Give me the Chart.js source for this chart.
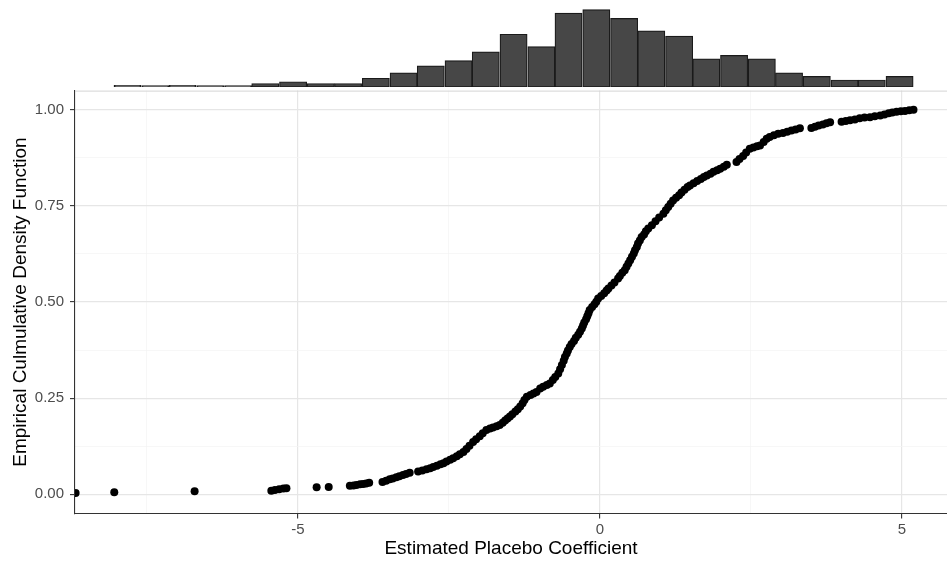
<!DOCTYPE html>
<html>
<head>
<meta charset="utf-8">
<script src="https://cdn.jsdelivr.net/npm/chart.js@4.4.1/dist/chart.umd.min.js"></script>
<style>
    body { margin: 0; background: #fff; }
    #wrap { position: relative; width: 947px; height: 565px; }
    canvas { position: absolute; left: 0; top: 0; }
</style>
</head>
<body>
<div id="wrap">
    <canvas id="ecdfChart" width="947" height="565"></canvas>
    <canvas id="histChart" width="947" height="88"></canvas>
</div>
<script>
// sorted placebo coefficients and their empirical CDF value
const coefX = [
    -8.68, -8.04, -6.71, -5.44, -5.38, -5.31, -5.24, -5.19, -4.69, -4.49,
    -4.14, -4.08, -4.03, -3.97, -3.92, -3.87, -3.82, -3.60, -3.54, -3.48,
    -3.43, -3.37, -3.32, -3.26, -3.21, -3.15, -3.01, -2.94, -2.87, -2.81,
    -2.76, -2.70, -2.64, -2.59, -2.54, -2.48, -2.43, -2.37, -2.32, -2.26,
    -2.21, -2.16, -2.10, -2.05, -1.99, -1.94, -1.88, -1.82, -1.77, -1.71,
    -1.66, -1.61, -1.57, -1.53, -1.49, -1.45, -1.40, -1.36, -1.32, -1.28,
    -1.25, -1.21, -1.15, -1.10, -1.05, -0.99, -0.94, -0.88, -0.83, -0.78,
    -0.74, -0.69, -0.66, -0.63, -0.60, -0.58, -0.55, -0.53, -0.50, -0.47,
    -0.43, -0.40, -0.36, -0.33, -0.30, -0.28, -0.26, -0.23, -0.21, -0.19,
    -0.17, -0.13, -0.09, -0.06, -0.03, 0.02, 0.07, 0.11, 0.14, 0.19,
    0.24, 0.30, 0.33, 0.37, 0.41, 0.44, 0.47, 0.50, 0.53, 0.56,
    0.58, 0.61, 0.63, 0.66, 0.69, 0.73, 0.76, 0.80, 0.86, 0.92,
    0.98, 1.05, 1.09, 1.13, 1.17, 1.21, 1.26, 1.31, 1.35, 1.40,
    1.45, 1.49, 1.55, 1.61, 1.67, 1.72, 1.77, 1.83, 1.88, 1.94,
    1.99, 2.05, 2.10, 2.26, 2.31, 2.37, 2.42, 2.48, 2.54, 2.60,
    2.65, 2.71, 2.76, 2.81, 2.88, 2.95, 3.03, 3.10, 3.17, 3.24,
    3.31, 3.50, 3.56, 3.62, 3.69, 3.75, 3.81, 4.00, 4.07, 4.14,
    4.22, 4.30, 4.38, 4.47, 4.55, 4.64, 4.71, 4.78, 4.84, 4.91,
    4.98, 5.05, 5.12, 5.19
];
const ecdfY = [
    .003, .005, .008, .009, .011, .013, .015, .016, .018, .019,
    .022, .023, .024, .026, .027, .028, .030, .032, .035, .039,
    .041, .044, .047, .050, .053, .056, .059, .062, .065, .068,
    .071, .074, .078, .081, .085, .090, .094, .099, .104, .110,
    .118, .126, .136, .143, .151, .159, .167, .171, .174, .177,
    .180, .186, .192, .197, .202, .208, .215, .221, .228, .237,
    .245, .254, .258, .262, .266, .275, .280, .284, .288, .297,
    .305, .314, .325, .336, .347, .357, .366, .374, .383, .391,
    .399, .407, .415, .423, .431, .439, .447, .455, .463, .471,
    .479, .487, .494, .501, .509, .516, .523, .530, .535, .543,
    .551, .561, .568, .576, .583, .592, .600, .609, .618, .626,
    .635, .643, .652, .660, .669, .676, .684, .691, .700, .710,
    .720, .730, .739, .747, .756, .764, .771, .778, .785, .792,
    .799, .803, .809, .815, .820, .825, .829, .834, .839, .843,
    .847, .852, .857, .864, .872, .880, .889, .899, .902, .905,
    .907, .916, .925, .929, .934, .938, .940, .943, .946, .949,
    .952, .953, .956, .959, .962, .965, .968, .969, .971, .973,
    .975, .978, .980, .981, .983, .985, .988, .991, .993, .995,
    .996, .997, .999, 1.000
];

// marginal histogram: bin centres and counts
const binMid = [
    -7.82, -7.36, -6.91, -6.45, -5.99, -5.54, -5.08, -4.62, -4.17, -3.71,
    -3.25, -2.80, -2.34, -1.89, -1.43, -0.97, -0.52, -0.06, 0.40, 0.85,
    1.31, 1.76, 2.22, 2.68, 3.13, 3.59, 4.05, 4.50, 4.96
];
const binCount = [
    1, 0, 1, 0, 0, 2, 3, 2, 2, 5,
    8, 12, 15, 20, 30, 23, 42, 44, 39, 32,
    29, 16, 18, 16, 8, 6, 4, 4, 6
];

const xMajor = [-5, 0, 5];
const xMinor = [-7.5, -2.5, 2.5];
const yMajor = [0, 0.25, 0.5, 0.75, 1];
const yMinor = [0.125, 0.375, 0.625, 0.875];
const xLimits = [-8.69, 5.745];
const yLimits = [-0.05, 1.05];

Chart.defaults.font.family = "'Liberation Sans', Arial, sans-serif";

function gridColor(major) {
    return c => major.includes(c.tick.value) ? '#e6e6e6' : '#f3f3f3';
}
function gridWidth(major) {
    return c => major.includes(c.tick.value) ? 1.2 : 0.7;
}
function tickMarkColor(major) {
    return c => major.includes(c.tick.value) ? '#333333' : 'rgba(0,0,0,0)';
}

// light line along the top of the panel
const topLine = {
    id: 'topLine',
    afterDraw(chart) {
        const a = chart.chartArea;
        const ctx = chart.ctx;
        ctx.save();
        ctx.strokeStyle = '#d4d4d4';
        ctx.lineWidth = 1;
        ctx.beginPath();
        ctx.moveTo(a.left, a.top + 0.5);
        ctx.lineTo(a.right, a.top + 0.5);
        ctx.stroke();
        ctx.restore();
    }
};

const points = coefX.map((x, i) => ({ x: x, y: ecdfY[i] }));

new Chart(document.getElementById('ecdfChart'), {
    type: 'scatter',
    data: {
        datasets: [{
            data: points,
            backgroundColor: '#000000',
            borderWidth: 0,
            pointRadius: 4,
            pointHoverRadius: 4
        }]
    },
    options: {
        responsive: false,
        animation: false,
        layout: { autoPadding: false, padding: { top: 90.6, right: 0, bottom: 0, left: 0 } },
        plugins: {
            legend: { display: false },
            tooltip: { enabled: false }
        },
        scales: {
            x: {
                type: 'linear',
                min: xLimits[0],
                max: xLimits[1],
                afterBuildTicks: s => {
                    s.ticks = xMinor.concat(xMajor).sort((a, b) => a - b).map(v => ({ value: v }));
                },
                afterFit: s => { s.height = 51.5; },
                ticks: {
                    autoSkip: false,
                    maxRotation: 0,
                    padding: 2,
                    color: '#4d4d4d',
                    font: { size: 15 },
                    callback: v => xMajor.includes(v) ? String(v) : ''
                },
                grid: {
                    color: gridColor(xMajor),
                    lineWidth: gridWidth(xMajor),
                    tickColor: tickMarkColor(xMajor),
                    tickWidth: 1.1,
                    tickLength: 5
                },
                border: { color: '#333333', width: 1.1 },
                title: {
                    display: true,
                    text: 'Estimated Placebo Coefficient',
                    color: '#000000',
                    font: { size: 19 },
                    padding: { top: 0, bottom: 4.6 }
                }
            },
            y: {
                type: 'linear',
                min: yLimits[0],
                max: yLimits[1],
                afterBuildTicks: s => {
                    s.ticks = yMinor.concat(yMajor).sort((a, b) => a - b).map(v => ({ value: v }));
                },
                afterFit: s => { s.width = 75; },
                ticks: {
                    autoSkip: false,
                    padding: 6,
                    color: '#4d4d4d',
                    font: { size: 15 },
                    callback: v => yMajor.includes(v) ? v.toFixed(2) : ''
                },
                grid: {
                    color: gridColor(yMajor),
                    lineWidth: gridWidth(yMajor),
                    tickColor: tickMarkColor(yMajor),
                    tickWidth: 1.1,
                    tickLength: 5
                },
                border: { color: '#333333', width: 1.1 },
                title: {
                    display: true,
                    text: 'Empirical Culmulative Density Function',
                    color: '#000000',
                    font: { size: 19 },
                    padding: { top: 9, bottom: 0 }
                }
            }
        }
    },
    plugins: [topLine]
});

const bins = binMid.map((m, i) => ({ x: m, y: binCount[i] }));

new Chart(document.getElementById('histChart'), {
    type: 'bar',
    data: {
        datasets: [{
            data: bins,
            backgroundColor: '#474747',
            borderColor: '#1a1a1a',
            borderWidth: 1.2,
            borderSkipped: false,
            minBarLength: 1.5,
            barPercentage: 1,
            categoryPercentage: 1
        }]
    },
    options: {
        responsive: false,
        animation: false,
        layout: { autoPadding: false, padding: { top: 0, right: 0, bottom: 1, left: 75 } },
        plugins: {
            legend: { display: false },
            tooltip: { enabled: false }
        },
        scales: {
            x: { type: 'linear', min: xLimits[0], max: xLimits[1], offset: false, display: false },
            y: { min: 0, max: 49.5, display: false }
        }
    }
});
</script>
</body>
</html>
